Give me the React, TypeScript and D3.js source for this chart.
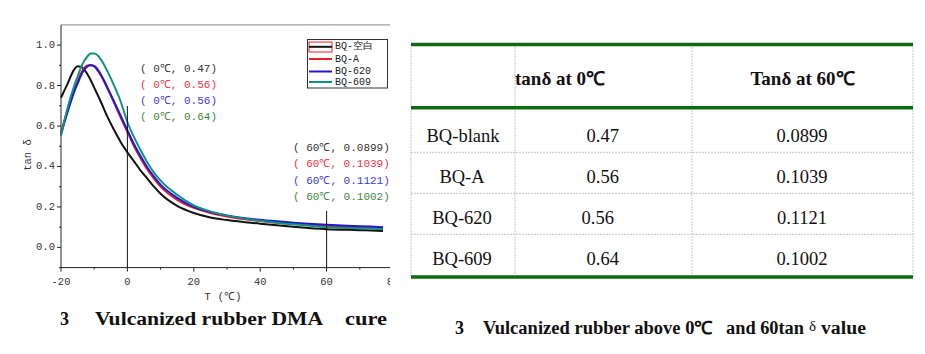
import React from "react";
import * as d3 from "d3";

// ---------- data ----------
const temps = [-20, -18, -16, -15, -14, -12, -11, -10, -8, -6, -4, -2, 0, 2, 4, 6, 8, 10, 15, 20, 25, 30, 40, 50, 60, 70, 77];
const blankVals = [0.74, 0.81, 0.88, 0.895, 0.893, 0.855, 0.825, 0.79, 0.72, 0.645, 0.58, 0.52, 0.47, 0.425, 0.38, 0.34, 0.3, 0.265, 0.205, 0.17, 0.148, 0.135, 0.117, 0.102, 0.09, 0.085, 0.081];
const aVals = [0.57, 0.68, 0.78, 0.82, 0.86, 0.9, 0.902, 0.895, 0.85, 0.785, 0.715, 0.64, 0.57, 0.5, 0.44, 0.385, 0.34, 0.3, 0.235, 0.195, 0.17, 0.152, 0.13, 0.115, 0.104, 0.098, 0.095];
const b620Vals = [0.56, 0.67, 0.77, 0.81, 0.85, 0.895, 0.9, 0.897, 0.855, 0.79, 0.72, 0.65, 0.58, 0.51, 0.45, 0.395, 0.35, 0.31, 0.245, 0.2, 0.175, 0.158, 0.136, 0.122, 0.112, 0.105, 0.1];
const b609Vals = [0.55, 0.69, 0.8, 0.845, 0.89, 0.945, 0.958, 0.958, 0.93, 0.87, 0.8, 0.72, 0.62, 0.545, 0.48, 0.42, 0.37, 0.33, 0.26, 0.208, 0.178, 0.157, 0.132, 0.114, 0.1, 0.094, 0.09];

const seriesNames = ["BQ-空白", "BQ-A", "BQ-620", "BQ-609"];
const seriesColors = ["#111111", "#ee1c25", "#1a1ad0", "#139081"];
const annoColors = ["#333333", "#ee3344", "#3a3ad8", "#3a8a3a"];

const xTicks = [-20, 0, 20, 40, 60, 80];
const xMinor = [-10, 10, 30, 50, 70];
const yTicks = [0, 0.2, 0.4, 0.6, 0.8, 1.0];
const yMinor = [-0.1, 0.1, 0.3, 0.5, 0.7, 0.9];

const anno0 = ["( 0℃, 0.47)", "( 0℃, 0.56)", "( 0℃, 0.56)", "( 0℃, 0.64)"];
const anno60 = ["( 60℃, 0.0899)", "( 60℃, 0.1039)", "( 60℃, 0.1121)", "( 60℃, 0.1002)"];

const tableHeaders = ["tanδ at 0℃", "Tanδ at 60℃"];
const tableRows = ["BQ-blank", "BQ-A", "BQ-620", "BQ-609"];
const tableAt0 = ["0.47", "0.56", "0.56", "0.64"];
const tableAt60 = ["0.0899", "0.1039", "0.1121", "0.1002"];

const allSeries = [blankVals, aVals, b620Vals, b609Vals];

export default function App() {
  const x = d3.scaleLinear().domain([-20, 80]).range([61, 393]);
  const y = d3.scaleLinear().domain([-0.1, 1.1]).range([267.6, 24.9]);
  const line = d3
    .line<[number, number]>()
    .x((d) => x(d[0]))
    .y((d) => y(d[1]))
    .curve(d3.curveMonotoneX);

  const mono = "'Liberation Mono', 'DejaVu Sans Mono', monospace";
  const serif = "'Liberation Serif', 'Times New Roman', serif";

  // table geometry
  const colX = [411, 515, 692, 913];
  const rowY = [108, 152.3, 193.3, 234.3, 277];
  const rowCenters = [136, 176.7, 218, 259];
  const col0Centers = [463, 462, 462, 462];
  const col1Centers = [602.7, 602.7, 597.7, 602.7];
  const green = "#0b6a12";
  const grid = "#c4c4c4";

  return (
    <svg
      width={925}
      height={354}
      style={{ position: "absolute", left: 0, top: 0, background: "#fff" }}
    >
      <rect width={925} height={354} fill="#fff" />
      <defs>
        <clipPath id="plotClip">
          <rect x={0} y={0} width={390} height={354} />
        </clipPath>
      </defs>

      {/* ---------- left chart ---------- */}
      <g clipPath="url(#plotClip)">
        <line x1={x(-20)} x2={395} y1={y(1.1)} y2={y(1.1)} stroke="#888" strokeWidth={1} />
        <line x1={x(-20)} x2={x(-20)} y1={y(1.1)} y2={y(-0.1)} stroke="#222" strokeWidth={1} />
        <line x1={x(-20)} x2={395} y1={y(-0.1)} y2={y(-0.1)} stroke="#222" strokeWidth={1} />
        {yTicks.map((t) => (
          <g key={"yt" + t}>
            <line x1={x(-20) - 4} x2={x(-20)} y1={y(t)} y2={y(t)} stroke="#222" />
            <text
              x={x(-20) - 6}
              y={y(t)}
              textAnchor="end"
              dominantBaseline="central"
              fontFamily={mono}
              fontSize={10.5}
              fill="#333"
            >
              {t.toFixed(1)}
            </text>
          </g>
        ))}
        {yMinor.map((t) => (
          <line key={"ym" + t} x1={x(-20) - 2} x2={x(-20)} y1={y(t)} y2={y(t)} stroke="#222" />
        ))}
        {xTicks.map((t) => (
          <g key={"xt" + t}>
            <line x1={x(t)} x2={x(t)} y1={y(-0.1)} y2={y(-0.1) + 4} stroke="#222" />
            <text
              x={x(t)}
              y={y(-0.1) + 14}
              textAnchor="middle"
              dominantBaseline="central"
              fontFamily={mono}
              fontSize={10.5}
              fill="#333"
            >
              {String(t)}
            </text>
          </g>
        ))}
        {xMinor.map((t) => (
          <line key={"xm" + t} x1={x(t)} x2={x(t)} y1={y(-0.1)} y2={y(-0.1) + 2} stroke="#222" />
        ))}
        <text
          x={223}
          y={297}
          textAnchor="middle"
          dominantBaseline="central"
          fontFamily={mono}
          fontSize={11}
          fill="#333"
        >
          T (℃)
        </text>
        <text
          transform={`translate(28,155) rotate(-90)`}
          textAnchor="middle"
          dominantBaseline="central"
          fontFamily={mono}
          fontSize={10.5}
          fill="#333"
        >
          tan δ
        </text>

        {allSeries.map((vals, i) => (
          <path
            key={"s" + i}
            d={line(temps.map((t, j) => [t, vals[j]] as [number, number])) || ""}
            fill="none"
            stroke={seriesColors[i]}
            strokeWidth={2}
          />
        ))}

        <line x1={x(0)} x2={x(0)} y1={106} y2={y(-0.1)} stroke="#111" strokeWidth={1} />
        <line x1={x(60)} x2={x(60)} y1={211} y2={y(-0.1)} stroke="#111" strokeWidth={1} />

        {anno0.map((s, i) => (
          <text
            key={"a0" + i}
            x={140}
            y={69 + i * 16.1}
            dominantBaseline="central"
            fontFamily={mono}
            fontSize={11}
            fill={annoColors[i]}
            style={{ whiteSpace: "pre" }}
          >
            {s}
          </text>
        ))}
        {anno60.map((s, i) => (
          <text
            key={"a6" + i}
            x={293}
            y={148 + i * 16.4}
            dominantBaseline="central"
            fontFamily={mono}
            fontSize={11}
            fill={annoColors[i]}
            style={{ whiteSpace: "pre" }}
          >
            {s}
          </text>
        ))}

        <rect x={307.5} y={39.5} width={80} height={48.5} fill="#fff" stroke="#333" strokeWidth={1} />
        <rect x={309} y={42} width={23} height={10} fill="none" stroke="#ee1c25" strokeWidth={1} />
        {seriesNames.map((n, i) => {
          const ly = [46.8, 59, 71.5, 82][i];
          return (
            <g key={"lg" + i}>
              <line x1={309} x2={332} y1={ly} y2={ly} stroke={seriesColors[i]} strokeWidth={2} />
              <text
                x={335}
                y={ly}
                dominantBaseline="central"
                fontFamily={mono}
                fontSize={10}
                fill="#222"
              >
                {n}
              </text>
            </g>
          );
        })}
      </g>

      <g fontFamily={serif} fontWeight="bold" fontSize={18} fill="#111">
        <text x={60} y={325}>3</text>
        <text x={95} y={325} textLength={228} lengthAdjust="spacingAndGlyphs">
          Vulcanized rubber DMA
        </text>
        <text x={345} y={325} textLength={42} lengthAdjust="spacingAndGlyphs">
          cure
        </text>
      </g>

      {/* ---------- table ---------- */}
      {colX.map((cx, i) => (
        <line
          key={"cv" + i}
          x1={cx}
          x2={cx}
          y1={44}
          y2={277}
          stroke={grid}
          strokeWidth={1}
          strokeDasharray="2,1"
        />
      ))}
      {rowY.slice(1, 4).map((ry, i) => (
        <line
          key={"rh" + i}
          x1={411}
          x2={913}
          y1={ry}
          y2={ry}
          stroke={grid}
          strokeWidth={1}
          strokeDasharray="2,1"
        />
      ))}
      <line x1={411} x2={913} y1={44.5} y2={44.5} stroke={green} strokeWidth={3.5} />
      <line x1={411} x2={913} y1={107.8} y2={107.8} stroke={green} strokeWidth={3.5} />
      <line x1={411} x2={913} y1={277} y2={277} stroke={green} strokeWidth={3.5} />

      <g fontFamily={serif} fontWeight="bold" fontSize={19} fill="#111">
        <text x={515} y={78} dominantBaseline="central">
          {tableHeaders[0]}
        </text>
        <text x={802.5} y={78} dominantBaseline="central" textAnchor="middle">
          {tableHeaders[1]}
        </text>
      </g>
      <g fontFamily={serif} fontSize={18.5} fill="#111">
        {tableRows.map((r, i) => (
          <g key={"tr" + i}>
            <text x={col0Centers[i]} y={rowCenters[i]} textAnchor="middle" dominantBaseline="central">
              {r}
            </text>
            <text x={col1Centers[i]} y={rowCenters[i]} textAnchor="middle" dominantBaseline="central">
              {tableAt0[i]}
            </text>
            <text x={802} y={rowCenters[i]} textAnchor="middle" dominantBaseline="central">
              {tableAt60[i]}
            </text>
          </g>
        ))}
      </g>

      <g fontFamily={serif} fontWeight="bold" fontSize={18} fill="#111">
        <text x={455} y={334}>3</text>
        <text x={483} y={334} textLength={230} lengthAdjust="spacingAndGlyphs">
          Vulcanized rubber above 0℃
        </text>
        <text x={726} y={334} textLength={78} lengthAdjust="spacingAndGlyphs">
          and 60tan
        </text>
        <text x={809} y={331} fontWeight="normal" fontSize={15}>
          δ
        </text>
        <text x={821} y={334} textLength={45} lengthAdjust="spacingAndGlyphs">
          value
        </text>
      </g>
    </svg>
  );
}
